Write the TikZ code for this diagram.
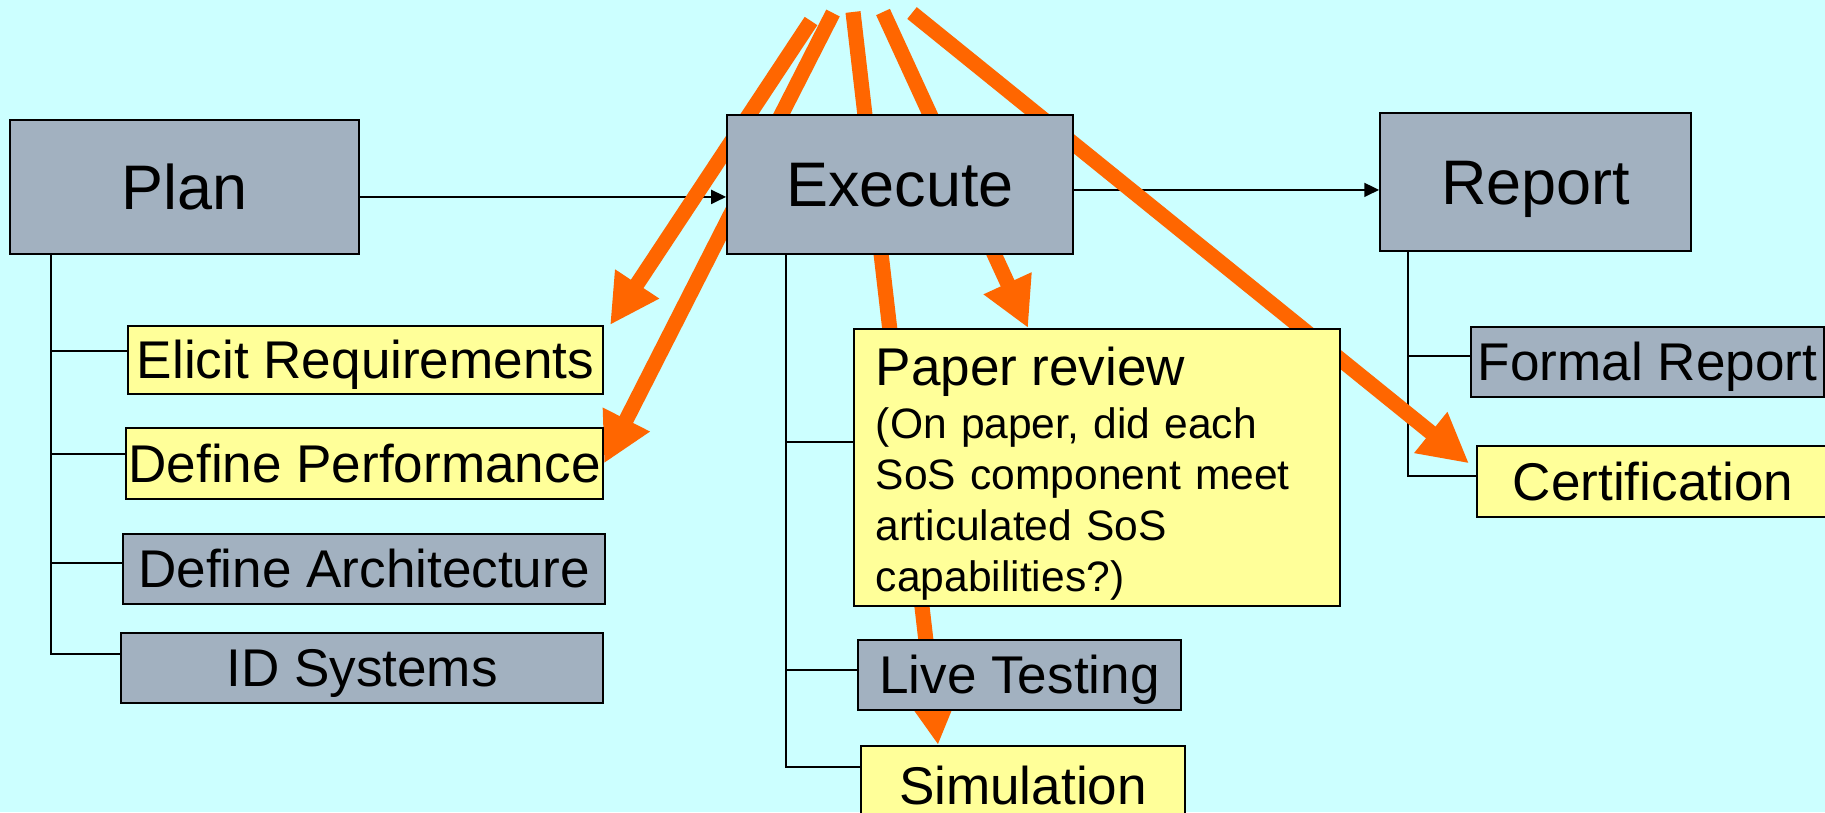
\documentclass[tikz,border=0pt]{standalone}
\usepackage{fontspec}
\setmainfont{Liberation Sans}
\usetikzlibrary{arrows.meta,backgrounds}
\definecolor{skyback}{HTML}{CCFFFF}
\definecolor{slate}{RGB}{162,177,192}
\definecolor{pale}{HTML}{FFFF99}
\definecolor{hotorange}{HTML}{FF6600}

\begin{document}
\begin{tikzpicture}[x=0.01cm, y=-0.01cm]
\tikzset{box/.style={draw, line width=0.5pt, inner sep=0pt, anchor=north west, text height=10.8pt, text depth=0pt, font=\fontsize{15.1}{18}\selectfont}}
\tikzset{stage/.style={box, fill=slate, text height=12.8pt, font=\fontsize{17.9}{21}\selectfont}}
\tikzset{grey box/.style={box, fill=slate}}
\tikzset{yellow box/.style={box, fill=pale}}
\tikzset{note/.style={draw, fill=pale, line width=0.5pt, anchor=north west, align=left, inner xsep=0.22cm, inner ysep=0pt, text width=4.42cm, font=\fontsize{12.1}{14.5}\selectfont}}
\tikzset{link/.style={draw, line width=0.5pt}}
\tikzset{flow/.style={link, -{Triangle[length=4.2pt, width=4pt]}}}
\tikzset{hot/.style={draw=hotorange, line width=4.3pt, -{Triangle[length=14pt, width=14pt]}}}
\useasboundingbox (0,0) rectangle (1825,812);
\clip (0,0) rectangle (1825,812);

\node[stage, minimum width=3.49cm, minimum height=1.34cm] (plan) at (9,119) {Plan};
\node[stage, minimum width=3.46cm, minimum height=1.39cm] (exec) at (726,114) {Execute};
\node[stage, minimum width=3.11cm, minimum height=1.38cm] (report) at (1379,112) {Report};

\node[yellow box, minimum width=4.75cm, minimum height=0.68cm] (elicit) at (127,325) {Elicit Requirements};
\node[yellow box, minimum width=4.77cm, minimum height=0.71cm] (perf) at (125,427) {Define Performance};
\node[grey box, minimum width=4.82cm, minimum height=0.70cm] (arch) at (122,533) {Define Architecture};
\node[grey box, minimum width=4.82cm, minimum height=0.70cm] (idsys) at (120,632) {ID Systems};

\node[note, minimum width=4.86cm, minimum height=2.77cm] (paper) at (853,328)
  {{\fontsize{15.1}{18}\selectfont\rule{0pt}{14.4pt}Paper review}\\[0.6pt] (On paper, did each\\ SoS component meet\\ articulated SoS\\ capabilities?)};
\node[grey box, minimum width=3.23cm, minimum height=0.70cm] (live) at (857,639) {Live Testing};
\node[yellow box, minimum width=3.24cm, minimum height=0.80cm] (sim) at (860,745) {Simulation};

\node[grey box, minimum width=3.53cm, minimum height=0.70cm] (formal) at (1470,326) {Formal Report};
\node[yellow box, minimum width=3.52cm, minimum height=0.71cm] (cert) at (1476,445) {Certification};

\begin{pgfonlayer}{background}
\fill[skyback] (0,0) rectangle (1825,812);
\draw[flow] ([yshift=-1mm]plan.east) -- ([yshift=-1mm]plan.east -| exec.west);
\draw[flow] ([yshift=-0.55mm]exec.east) -- ([yshift=-0.55mm]exec.east -| report.west);

\coordinate (ptrunk) at ([xshift=4.2mm]plan.south west);
\foreach \n/\d in {elicit/0.9mm, perf/0.95mm, arch/0.6mm, idsys/1.4mm}
  \draw[link] ([yshift=\d]\n.west) -| (ptrunk);
\coordinate (etrunk) at ([xshift=6mm]exec.south west);
\foreach \n/\d in {paper/2.55mm, live/0.5mm, sim/1.9mm}
  \draw[link] ([yshift=\d]\n.west) -| (etrunk);
\coordinate (rtrunk) at ([xshift=2.9mm]report.south west);
\foreach \n/\d in {formal/0.6mm, cert/0.55mm}
  \draw[link] ([yshift=\d]\n.west) -| (rtrunk);

\coordinate (top1) at (811,21);
\coordinate (top2) at (833,13);
\coordinate (top3) at (853,12);
\coordinate (top4) at (883,12);
\coordinate (top5) at (912,13);
\draw[hot] (top1) -- ([xshift=0.6mm]elicit.north east);
\draw[hot] (top2) -- (perf.east);
\draw[hot] (top3) -- ([xshift=7.8mm]sim.north west);
\draw[hot] (top4) -- ([xshift=17.5mm]paper.north west);
\draw[hot] (top5) -- ([xshift=-0.7mm, yshift=1.8mm]cert.west);
\end{pgfonlayer}
\end{tikzpicture}
\end{document}
